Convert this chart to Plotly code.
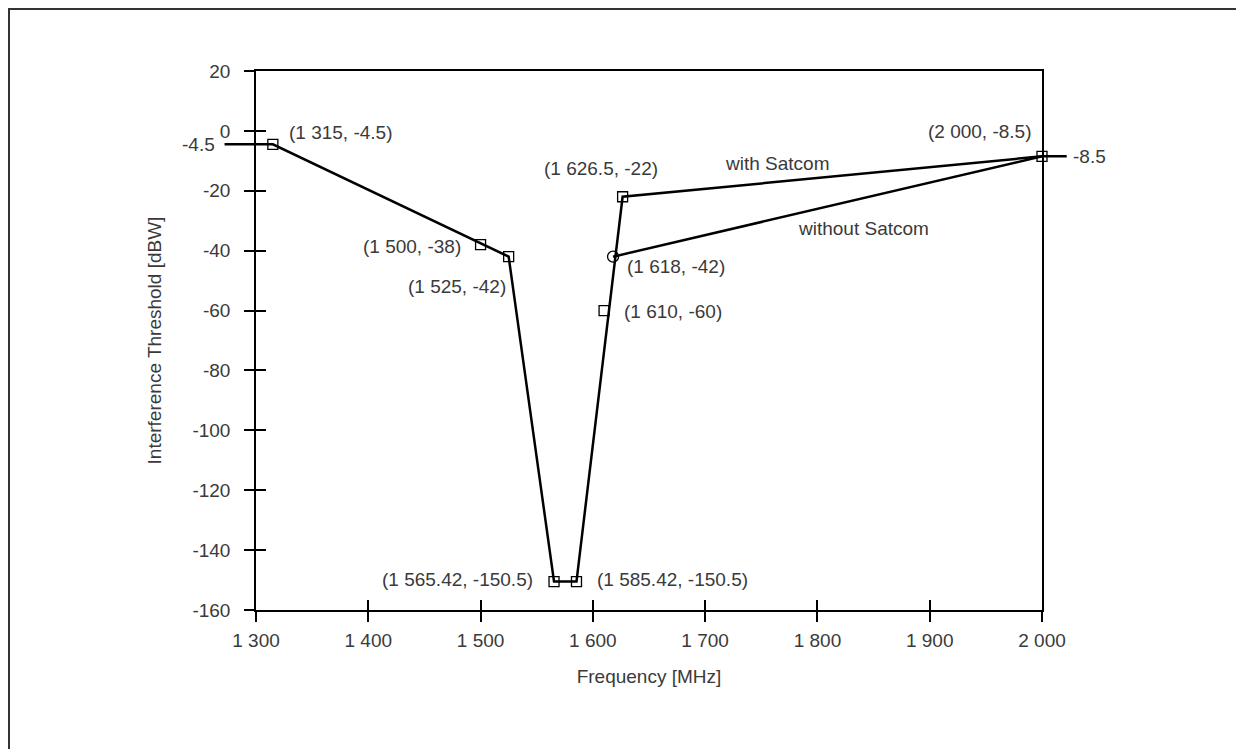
import plotly.graph_objects as go

# ---------------- data ----------------
line_sat_x = [1315, 1525, 1565.42, 1585.42, 1626.5, 2000]
line_sat_y = [-4.5, -42, -150.5, -150.5, -22, -8.5]
line_nosat_x = [1618, 2000]
line_nosat_y = [-42, -8.5]

sq_x = [1315, 1500, 1525, 1565.42, 1585.42, 1610, 1626.5, 2000]
sq_y = [-4.5, -38, -42, -150.5, -150.5, -60, -22, -8.5]
circ_x = [1618]
circ_y = [-42]

x_ticks = [1300, 1400, 1500, 1600, 1700, 1800, 1900, 2000]
y_ticks = [20, 0, -20, -40, -60, -80, -100, -120, -140, -160]
x_range = [1300, 2000]
y_range = [-160, 20]

series_labels = ["with Satcom", "without Satcom"]
series_label_pos = [(1764, -11), (1841, -32.7)]

# ---------------- layout geometry (pixels) ----------------
W, H = 1244, 749
OFF = 8  # page body margin
ML, MR, MT, MB = 200, 150, 60, 120
PW, PH = W - ML - MR, H - MT - MB
AX_L, AX_R, AX_T, AX_B = 256, 1042, 71, 610
DATA_L, DATA_R = 1260, 2040  # wider data axis so line stubs go past the frame
STUB_L, STUB_R = 43, 22      # stub lengths (x units) beyond the end points

def px2x(px):
    return (px - OFF - ML) / PW

def py2y(py):
    return 1 - (py - OFF - MT) / PH

vd0, vd1 = px2x(AX_L), px2x(AX_R)
s = (vd1 - vd0) / (x_range[1] - x_range[0])
dd0 = vd0 - (x_range[0] - DATA_L) * s
dd1 = vd1 + (DATA_R - x_range[1]) * s
yd0, yd1 = py2y(AX_B), py2y(AX_T)

FONT = "Liberation Sans, Arial, sans-serif"
TXT = "#3a3a3a"
FS = 19

def fmt_num(v):
    neg = v < 0
    v = abs(v)
    if float(v).is_integer():
        s_ = str(int(v))
        dec = ""
    else:
        s_, dec = ("%g" % v).split(".")
        dec = "." + dec
    if len(s_) > 3:
        s_ = s_[:-3] + " " + s_[-3:]
    return ("-" if neg else "") + s_ + dec

fig = go.Figure()

# main line with stubs
mx = [line_sat_x[0] - STUB_L] + line_sat_x + [line_sat_x[-1] + STUB_R]
my = [line_sat_y[0]] + line_sat_y + [line_sat_y[-1]]
fig.add_trace(go.Scatter(x=mx, y=my, mode="lines", line=dict(color="black", width=2.5),
                         xaxis="x", yaxis="y", showlegend=False, hoverinfo="skip"))
fig.add_trace(go.Scatter(x=line_nosat_x, y=line_nosat_y, mode="lines",
                         line=dict(color="black", width=2.5),
                         xaxis="x", yaxis="y", showlegend=False, hoverinfo="skip"))
fig.add_trace(go.Scatter(x=sq_x, y=sq_y, mode="markers",
                         marker=dict(symbol="square-open", size=10, color="black",
                                     line=dict(width=1.3)),
                         xaxis="x", yaxis="y", showlegend=False, cliponaxis=False))
fig.add_trace(go.Scatter(x=circ_x, y=circ_y, mode="markers",
                         marker=dict(symbol="circle-open", size=11, color="black",
                                     line=dict(width=1.3)),
                         xaxis="x", yaxis="y", showlegend=False, cliponaxis=False))
# dummy traces for frame axes
fig.add_trace(go.Scatter(x=[None], y=[None], xaxis="x2", yaxis="y", showlegend=False))
fig.add_trace(go.Scatter(x=[None], y=[None], xaxis="x3", yaxis="y2", showlegend=False))

# point labels: (xanchor, xshift, yshift)
label_style = {
    1315: ("left", 14, 12),
    1500: ("right", -18, -2),
    1525: ("right", -1, -30),
    1565.42: ("right", -19, 2),
    1585.42: ("left", 19, 2),
    1610: ("left", 18, -1),
    1626.5: ("center", -22, 28),
    2000: ("right", -8, 25),
}
ann = []
for x, y in zip(sq_x, sq_y):
    xa, xs, ys = label_style[x]
    ann.append(dict(x=x, y=y, xref="x", yref="y", text=f"({fmt_num(x)}, {fmt_num(y)})",
                    showarrow=False, xanchor=xa, yanchor="middle", xshift=xs, yshift=ys,
                    font=dict(family=FONT, size=FS, color=TXT)))
for x, y in zip(circ_x, circ_y):
    ann.append(dict(x=x, y=y, xref="x", yref="y", text=f"({fmt_num(x)}, {fmt_num(y)})",
                    showarrow=False, xanchor="left", yanchor="middle", xshift=12, yshift=-10,
                    font=dict(family=FONT, size=FS, color=TXT)))
for t, (x, y) in zip(series_labels, series_label_pos):
    ann.append(dict(x=x, y=y, xref="x", yref="y", text=t, showarrow=False,
                    xanchor="center", yanchor="middle",
                    font=dict(family=FONT, size=FS, color=TXT)))
# end value labels outside the frame
ann.append(dict(x=line_sat_x[0] - STUB_L, y=line_sat_y[0], xref="x", yref="y",
                text=fmt_num(line_sat_y[0]), showarrow=False, xanchor="right",
                yanchor="middle", xshift=-8, font=dict(family=FONT, size=FS, color=TXT)))
ann.append(dict(x=line_sat_x[-1] + STUB_R, y=line_sat_y[-1], xref="x", yref="y",
                text=fmt_num(line_sat_y[-1]), showarrow=False, xanchor="left",
                yanchor="middle", xshift=4, font=dict(family=FONT, size=FS, color=TXT)))

axis_font = dict(family=FONT, size=FS, color=TXT)
fig.update_layout(
    width=W, height=H,
    margin=dict(l=ML, r=MR, t=MT, b=MB),
    paper_bgcolor="white", plot_bgcolor="rgba(0,0,0,0)",
    font=dict(family=FONT, size=FS, color=TXT),
    annotations=ann,
    xaxis=dict(domain=[dd0, dd1], range=[DATA_L, DATA_R], visible=False,
               anchor="y", fixedrange=True),
    xaxis2=dict(domain=[vd0, vd1], range=x_range, anchor="y",
                tickvals=x_ticks, ticktext=[fmt_num(v) for v in x_ticks],
                ticks="outside", ticklen=10, tickwidth=1.5, tickcolor="black",
                ticklabelstandoff=2,
                showline=True, linecolor="black", linewidth=1.5, mirror=True,
                showgrid=False, zeroline=False, tickfont=axis_font,
                title=dict(text="Frequency [MHz]", font=axis_font, standoff=20)),
    xaxis3=dict(domain=[vd0, vd1], range=x_range, anchor="y2", overlaying="x2",
                tickvals=x_ticks, ticks="inside", ticklen=10, tickwidth=1.5,
                tickcolor="black", showticklabels=False, showline=False,
                showgrid=False, zeroline=False),
    yaxis=dict(domain=[yd0, yd1], range=y_range, anchor="x2",
               tickvals=y_ticks, ticktext=[fmt_num(v) for v in y_ticks],
               ticks="outside", ticklen=10, tickwidth=1.5, tickcolor="black",
               ticklabelstandoff=10,
               showline=True, linecolor="black", linewidth=1.5, mirror=True,
               showgrid=False, zeroline=False, tickfont=axis_font,
               title=dict(text="Interference Threshold [dBW]", font=axis_font, standoff=26)),
    yaxis2=dict(domain=[yd0, yd1], range=y_range, anchor="x3", overlaying="y",
                tickvals=y_ticks, ticks="inside", ticklen=10, tickwidth=1.5,
                tickcolor="black", showticklabels=False, showline=False,
                showgrid=False, zeroline=False),
    shapes=[dict(type="rect", xref="paper", yref="paper",
                 x0=px2x(OFF + 1), x1=px2x(W + 40), y0=py2y(H + 40), y1=py2y(OFF + 1),
                 line=dict(color="#333333", width=2), fillcolor="rgba(0,0,0,0)",
                 layer="below")],
)

fig.write_html("out.html")
